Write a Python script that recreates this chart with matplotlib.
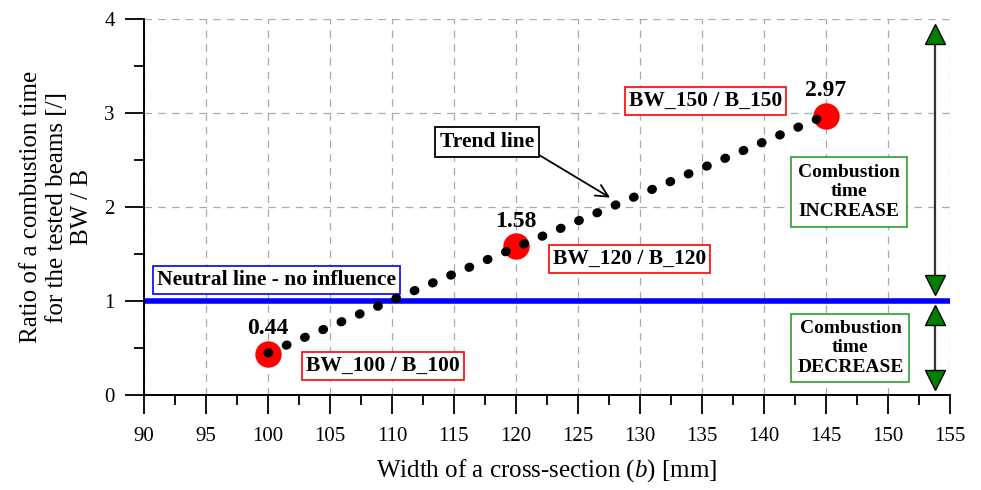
import matplotlib
matplotlib.use('Agg')
import matplotlib.pyplot as plt
import numpy as np
from matplotlib.ticker import MultipleLocator

plt.rcParams['font.family'] = ['Liberation Serif', 'DejaVu Serif']
plt.rcParams['mathtext.fontset'] = 'custom'
plt.rcParams['mathtext.it'] = 'Liberation Serif:italic'
plt.rcParams['mathtext.rm'] = 'Liberation Serif'

# data
widths = [100, 120, 145]
ratios = [0.44, 1.58, 2.97]
point_names = ['BW_100 / B_100', 'BW_120 / B_120', 'BW_150 / B_150']
neutral = 1.0

fig = plt.figure(figsize=(9.81, 4.9), dpi=100)
ax = fig.add_axes([0.1468, 0.194, 0.8212, 0.767])

ax.set_xlim(90, 155)
ax.set_ylim(0, 4)
ax.xaxis.set_major_locator(MultipleLocator(5))
ax.xaxis.set_minor_locator(MultipleLocator(2.5))
ax.yaxis.set_major_locator(MultipleLocator(1))
ax.yaxis.set_minor_locator(MultipleLocator(0.5))
ax.tick_params(which='major', direction='out', length=14, width=1.3, labelsize=15, pad=7)
ax.tick_params(which='minor', direction='out', length=7.5, width=1.3)
ax.tick_params(axis='x', which='major', pad=9)
for s in ['top', 'right']:
    ax.spines[s].set_visible(False)
for s in ['left', 'bottom']:
    ax.spines[s].set_linewidth(1.4)
ax.grid(True, which='major', color='#aaaaaa', linestyle=(0, (6, 5)), linewidth=0.9)
ax.set_axisbelow(True)

# trend line (linear fit)
k, q = np.polyfit(widths, ratios, 1)
xt = np.array([widths[0], widths[-1]])
ax.plot(xt, k * xt + q, color='black', lw=6.5, linestyle=(0, (0.1, 2.1)),
        dash_capstyle='round', zorder=4)

# points
ax.plot(widths, ratios, 'o', color='red', markersize=18, zorder=3)

# neutral line
ax.axhline(neutral, color='blue', lw=4, zorder=2)

bold = dict(fontsize=15.5, fontweight='bold')
for x, y in zip(widths, ratios):
    ax.text(x, y + 0.27, f'{y:.2f}', ha='center', va='center', fontsize=17, fontweight='bold')

name_pos = [(109.3, 0.31), (129.2, 1.45), (135.3, 3.13)]
for (x, y), name in zip(name_pos, point_names):
    ax.text(x, y, name, ha='center', va='center', **bold,
            bbox=dict(boxstyle='square,pad=0.18', fc='white', ec='red', lw=1.2))

ax.text(100.7, 1.22, 'Neutral line - no influence', ha='center', va='center', **bold,
        bbox=dict(boxstyle='square,pad=0.18', fc='white', ec='blue', lw=1.2))

ax.annotate('Trend line', xy=(127.6, 2.1), xytext=(117.7, 2.69), ha='center', va='center',
            **bold, bbox=dict(boxstyle='square,pad=0.22', fc='white', ec='black', lw=1.3),
            arrowprops=dict(arrowstyle='->', color='black', lw=1.3, mutation_scale=22,
                            shrinkA=0, shrinkB=0, relpos=(1, 0)))

ax.text(146.9, 2.16, 'Combustion\ntime\nINCREASE', ha='center', va='center', linespacing=1.2,
        fontsize=14, fontweight='bold',
        bbox=dict(boxstyle='square,pad=0.35', fc='white', ec='#2ca02c', lw=1.2))
ax.text(147.0, 0.5, 'Combustion\ntime\nDECREASE', ha='center', va='center', linespacing=1.2,
        fontsize=14, fontweight='bold',
        bbox=dict(boxstyle='square,pad=0.3', fc='white', ec='#2ca02c', lw=1.2))

# range arrows
ax_x = 153.8
ax.plot([ax_x, ax_x], [3.84, 1.17], color='#333333', lw=1.6, zorder=5)
ax.plot([ax_x], [3.84], marker='^', color='green', mec='black', ms=15, zorder=6)
ax.plot([ax_x], [1.17], marker='v', color='green', mec='black', ms=15, zorder=6)
ax.plot([ax_x, ax_x], [0.85, 0.16], color='#333333', lw=1.6, zorder=5)
ax.plot([ax_x], [0.85], marker='^', color='green', mec='black', ms=15, zorder=6)
ax.plot([ax_x], [0.16], marker='v', color='green', mec='black', ms=15, zorder=6)

ax.set_xlabel('Width of a cross-section ($b$) [mm]', fontsize=18, labelpad=8)
ax.set_ylabel('Ratio of a combustion time\nfor the tested beams [/]\nBW / B', fontsize=18,
              labelpad=8, linespacing=1.2)

fig.savefig('out.png', dpi=100)
